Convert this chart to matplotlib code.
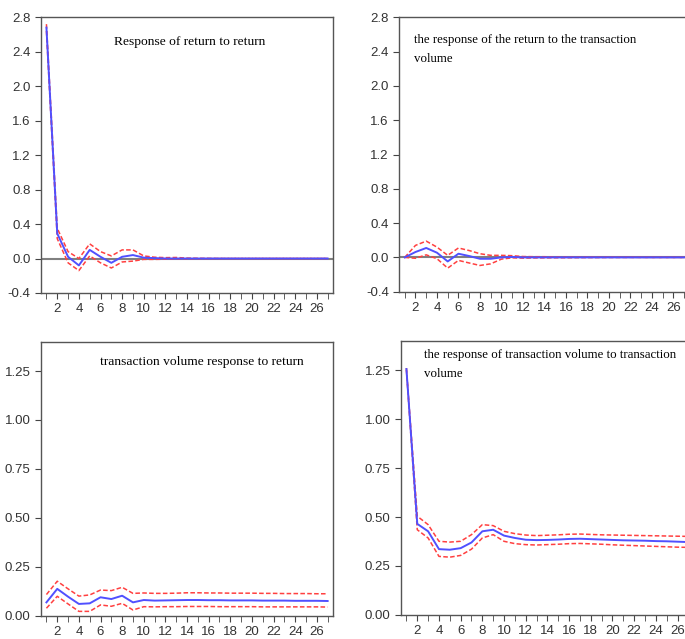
import numpy as np
import matplotlib
matplotlib.use("Agg")
import matplotlib.pyplot as plt

# horizon 1..27
periods = np.arange(1, 28)

# response of return to return
rr_mid = [2.68, 0.29, 0.02, -0.08, 0.10, 0.02, -0.05, 0.02, 0.04, 0.01, 0.005, 0.0, 0.0,
          0, 0, 0, 0, 0, 0, 0, 0, 0, 0, 0, 0, 0, 0]
rr_up = [2.72, 0.35, 0.08, 0.0, 0.17, 0.08, 0.03, 0.10, 0.10, 0.03, 0.015, 0.01, 0.012,
         0.005, 0.003, 0.002, 0.001, 0, 0, 0, 0, 0, 0, 0, 0, 0, 0]
rr_lo = [2.64, 0.23, -0.05, -0.14, 0.03, -0.05, -0.11, -0.04, -0.03, -0.01, -0.01, -0.008, -0.004,
         -0.004, -0.003, -0.002, -0.001, 0, 0, 0, 0, 0, 0, 0, 0, 0, 0]

# response of return to volume
rv_mid = [0.0, 0.063, 0.11, 0.055, -0.047, 0.043, 0.016, -0.016, -0.016, 0.0, 0.005, 0.0, 0.0,
          0, 0, 0, 0, 0, 0, 0, 0, 0, 0, 0, 0, 0, 0]
rv_up = [0.0, 0.14, 0.19, 0.12, 0.024, 0.11, 0.08, 0.043, 0.024, 0.024, 0.02, 0.01, 0.008,
         0.008, 0.005, 0.004, 0.004, 0.003, 0.003, 0.002, 0.002, 0.001, 0.001, 0, 0, 0, 0]
rv_lo = [0.0, -0.01, 0.03, -0.015, -0.125, -0.035, -0.065, -0.094, -0.075, -0.02, -0.005, -0.008, -0.006,
         -0.005, -0.004, -0.004, -0.003, -0.002, -0.002, -0.001, -0.001, 0, 0, 0, 0, 0, 0]

# response of volume to return
vr_mid = [0.068, 0.137, 0.097, 0.060, 0.063, 0.094, 0.085, 0.102, 0.068, 0.080, 0.077, 0.078, 0.079,
          0.080, 0.080, 0.079, 0.079, 0.078, 0.078, 0.078, 0.077, 0.077, 0.077, 0.076, 0.076, 0.076, 0.075]
vr_up = [0.108, 0.176, 0.137, 0.100, 0.106, 0.131, 0.128, 0.145, 0.114, 0.116, 0.114, 0.114, 0.115,
         0.117, 0.117, 0.116, 0.116, 0.115, 0.115, 0.115, 0.114, 0.114, 0.113, 0.113, 0.113, 0.112, 0.112]
vr_lo = [0.038, 0.099, 0.060, 0.022, 0.022, 0.055, 0.048, 0.063, 0.029, 0.046, 0.045, 0.046, 0.046,
         0.047, 0.047, 0.047, 0.046, 0.046, 0.046, 0.046, 0.045, 0.045, 0.045, 0.045, 0.045, 0.045, 0.044]

# response of volume to volume
vv_mid = [1.255, 0.465, 0.427, 0.336, 0.333, 0.341, 0.370, 0.427, 0.435, 0.405, 0.393, 0.384, 0.382,
          0.383, 0.385, 0.388, 0.389, 0.387, 0.385, 0.383, 0.381, 0.380, 0.379, 0.377, 0.376, 0.374, 0.372]
vv_up = [1.26, 0.504, 0.461, 0.376, 0.372, 0.376, 0.410, 0.461, 0.456, 0.427, 0.415, 0.408, 0.405,
         0.407, 0.409, 0.412, 0.413, 0.411, 0.409, 0.408, 0.407, 0.406, 0.405, 0.404, 0.403, 0.402, 0.401]
vv_lo = [1.25, 0.435, 0.393, 0.299, 0.295, 0.304, 0.336, 0.393, 0.410, 0.376, 0.364, 0.359, 0.357,
         0.359, 0.361, 0.364, 0.365, 0.363, 0.361, 0.358, 0.356, 0.354, 0.352, 0.350, 0.348, 0.346, 0.345]

titles = ["Response of return to return",
          "the response of the return to the transaction\nvolume",
          "transaction volume response to return",
          "the response of transaction volume to transaction\nvolume"]

tick_font = ["Liberation Sans Narrow", "Liberation Sans", "DejaVu Sans"]
title_font = ["Liberation Serif", "DejaVu Serif"]

fig = plt.figure(figsize=(6.85, 6.39), dpi=100)

positions = [[0.0599, 0.5415, 0.4263, 0.4315],
             [0.583, 0.5435, 0.4235, 0.4294],
             [0.0599, 0.0365, 0.4263, 0.4288],
             [0.5854, 0.0376, 0.4275, 0.4293]]

series = [(rr_mid, rr_up, rr_lo), (rv_mid, rv_up, rv_lo),
          (vr_mid, vr_up, vr_lo), (vv_mid, vv_up, vv_lo)]

for i in range(4):
    ax = fig.add_axes(positions[i])
    mid, up, lo = series[i]
    if i < 2:
        ax.axhline(0, color="#808080", lw=1.5, zorder=1)
    ax.plot(periods, mid, color="#5050ff", lw=1.4, zorder=3)
    ax.plot(periods, up, color="#ff4040", lw=1.1, ls=(0, (3, 1.5)), zorder=2)
    ax.plot(periods, lo, color="#ff4040", lw=1.1, ls=(0, (3, 1.5)), zorder=2)

    ax.set_xlim(0.5, 27.5)
    ax.set_xticks(periods, minor=True)
    ax.set_xticks(np.arange(2, 27, 2))
    ax.tick_params(axis="x", which="both", direction="out", length=4, color="#444444")
    if i < 2:
        ax.set_ylim(-0.4, 2.8)
        yt = np.arange(-0.4, 2.81, 0.4)
        ax.set_yticks(yt)
        ax.set_yticklabels(["%.1f" % v for v in yt])
    else:
        ax.set_ylim(0, 1.4)
        yt = np.arange(0, 1.26, 0.25)
        ax.set_yticks(yt)
        ax.set_yticklabels(["%.2f" % v for v in yt])
    ax.tick_params(axis="y", direction="out", length=4, color="#444444")
    for lab in ax.get_xticklabels() + ax.get_yticklabels():
        lab.set_family(tick_font)
        lab.set_fontsize(9.5)
        lab.set_color("#333333")
    for sp in ax.spines.values():
        sp.set_color("#555555")
        sp.set_linewidth(1.0)

    if i == 0:
        ax.text(0.51, 0.91, titles[i], transform=ax.transAxes, ha="center", va="center",
                family=title_font, fontsize=9.7)
    elif i == 1:
        ax.text(0.05, 0.94, titles[i], transform=ax.transAxes, ha="left", va="top",
                family=title_font, fontsize=9.3, linespacing=1.75)
    elif i == 2:
        ax.text(0.55, 0.926, titles[i], transform=ax.transAxes, ha="center", va="center",
                family=title_font, fontsize=9.7)
    else:
        ax.text(0.078, 0.968, titles[i], transform=ax.transAxes, ha="left", va="top",
                family=title_font, fontsize=9.3, linespacing=1.75)

fig.savefig("out.png", dpi=100)
